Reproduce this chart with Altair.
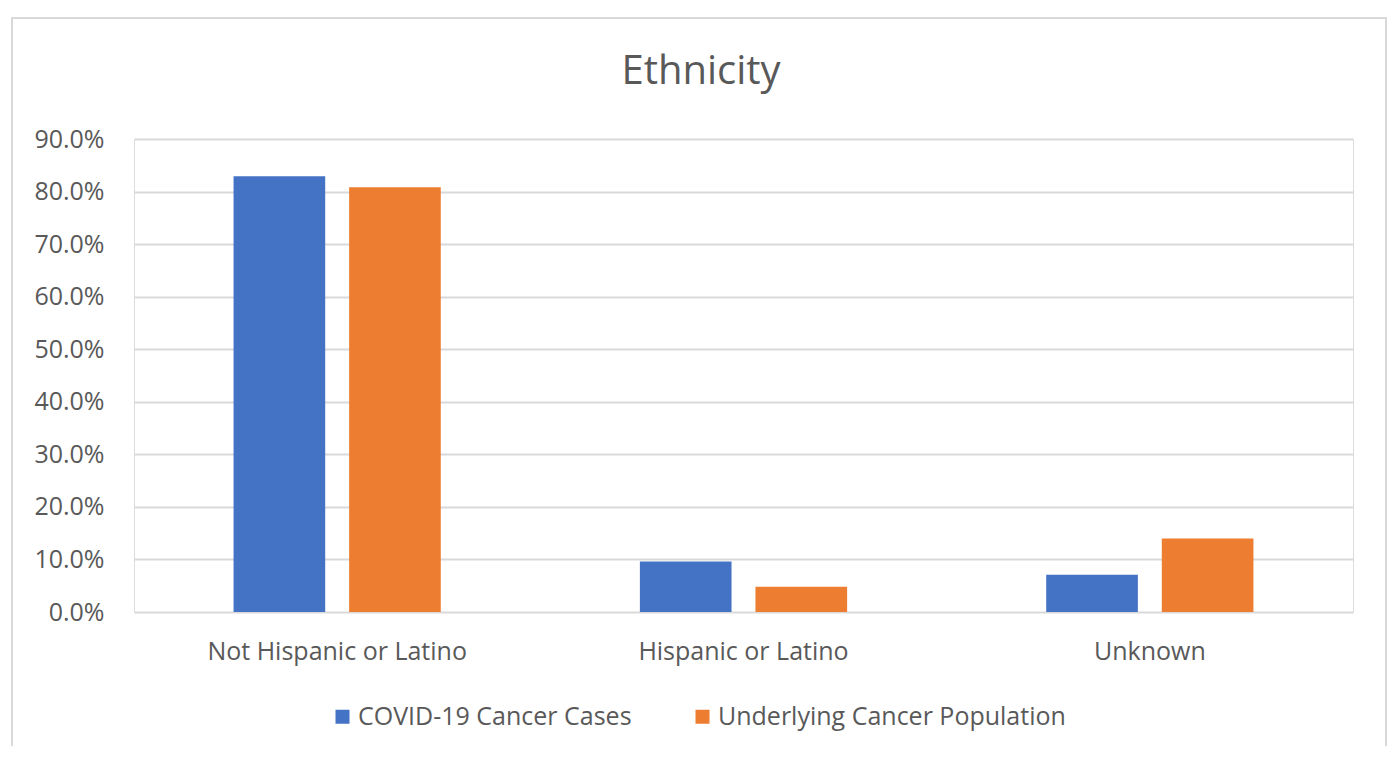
import altair as alt
import pandas as pd

categories = ["Not Hispanic or Latino", "Hispanic or Latino", "Unknown"]
series = ["COVID-19 Cancer Cases", "Underlying Cancer Population"]
covid_values = [0.829, 0.096, 0.071]
population_values = [0.808, 0.048, 0.140]
y_ticks = [0.0, 0.1, 0.2, 0.3, 0.4, 0.5, 0.6, 0.7, 0.8, 0.9]
colors = ["#4472C4", "#ED7D31"]

rows = []
for c, v in zip(categories, covid_values):
    rows.append({"Category": c, "Series": series[0], "Value": v})
for c, v in zip(categories, population_values):
    rows.append({"Category": c, "Series": series[1], "Value": v})
df = pd.DataFrame(rows)

FONT = "Open Sans"
TEXT = "#595959"
W, H = 1219, 473

bars = alt.Chart(df).mark_bar(stroke=None).encode(
    x=alt.X("Category:N", sort=categories, title=None,
            scale=alt.Scale(paddingInner=0.49, paddingOuter=0.245),
            axis=alt.Axis(labelAngle=0, labelFontSize=25, labelColor=TEXT, labelFont=FONT,
                          ticks=False, domain=False, labelPadding=27, grid=False,
                          labelLimit=0)),
    xOffset=alt.XOffset("Series:N", sort=series,
                        scale=alt.Scale(paddingInner=0.207, paddingOuter=0)),
    y=alt.Y("Value:Q", title=None,
            scale=alt.Scale(domain=[0, 0.9], nice=False),
            axis=alt.Axis(values=y_ticks, format=".1%", labelFontSize=25, labelColor=TEXT,
                          labelFont=FONT, ticks=False, domain=False, labelPadding=30,
                          grid=True, gridColor="#D9D9D9", gridWidth=2)),
    color=alt.Color("Series:N", sort=series,
                    scale=alt.Scale(domain=series, range=colors),
                    legend=alt.Legend(title=None, orient="none", direction="horizontal",
                                      legendX=196, legendY=565, symbolType="square",
                                      symbolSize=196, symbolStrokeWidth=0, labelFontSize=25,
                                      labelFont=FONT, labelColor=TEXT, labelOffset=3,
                                      columnPadding=58, labelLimit=500)),
)

one = alt.Data(values=[{"k": 1}])

title = alt.Chart(one).mark_text(
    text="Ethnicity", font=FONT, fontSize=40, color=TEXT, align="center", baseline="alphabetic"
).encode(x=alt.value(567), y=alt.value(-55))

frame = alt.Chart(one).mark_rect(
    fill=None, stroke="#D9D9D9", strokeWidth=2, clip=False
).encode(x=alt.value(-122), x2=alt.value(1252), y=alt.value(-121), y2=alt.value(700))

chart = alt.layer(frame, bars, title).properties(
    width=W, height=H,
    autosize=alt.AutoSizeParams(type="none"),
    padding={"left": 126, "top": 131, "right": 35, "bottom": 134},
).configure_view(stroke=None).configure(background="white")

chart.save("out.html", embed_options={"renderer": "svg", "actions": False})
